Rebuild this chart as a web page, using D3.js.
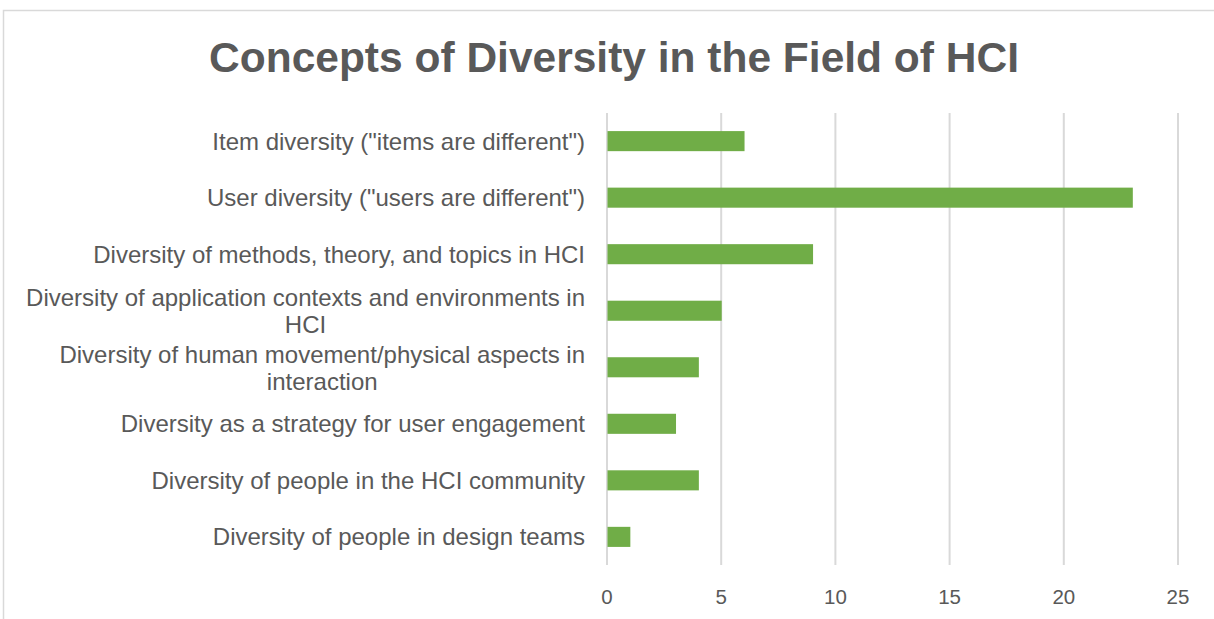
<!DOCTYPE html>
<html>
<head>
<meta charset="utf-8">
<script src="https://cdn.jsdelivr.net/npm/d3@7"></script>
<style>
  body { margin: 0; background: #fff; }
  text { font-family: "Liberation Sans", Arial, sans-serif; }
</style>
</head>
<body>
<div id="chart"></div>
<script>
var categories = [
  'Item diversity ("items are different")',
  'User diversity ("users are different")',
  'Diversity of methods, theory, and topics in HCI',
  'Diversity of application contexts and environments in HCI',
  'Diversity of human movement/physical aspects in interaction',
  'Diversity as a strategy for user engagement',
  'Diversity of people in the HCI community',
  'Diversity of people in design teams'
];
var counts = [6, 23, 9, 5, 4, 3, 4, 1];
var xTicks = [0, 5, 10, 15, 20, 25];
var title = "Concepts of Diversity in the Field of HCI";

var width = 1214,
  height = 619,
  barColor = "#70ad47",
  gridColor = "#d9d9d9",
  textColor = "#595959";

var margin = { top: 113, right: 36.5, bottom: 54, left: 606.5 };

var svg = d3.select("#chart")
  .append("svg")
  .attr("width", width)
  .attr("height", height);

// chart frame (cut off at right and bottom)
svg.append("path")
  .attr("d", "M3.5," + height + " V10.5 H" + width)
  .attr("fill", "none")
  .attr("stroke", gridColor)
  .attr("stroke-width", 1.5);

svg.append("text")
  .attr("x", 614)
  .attr("y", 72)
  .attr("text-anchor", "middle")
  .attr("font-size", 42.5)
  .attr("font-weight", "bold")
  .attr("fill", textColor)
  .text(title);

var x = d3.scaleLinear()
  .domain([0, 25])
  .range([margin.left, width - margin.right]);

var y = d3.scaleBand()
  .domain(categories)
  .range([margin.top, height - margin.bottom])
  .paddingInner(0.645)
  .paddingOuter(0.32);

// gridlines
var xAxis = d3.axisBottom(x)
  .tickValues(xTicks)
  .tickSize(-(height - margin.bottom - margin.top))
  .tickPadding(24);

var gx = svg.append("g")
  .attr("transform", "translate(0," + (height - margin.bottom) + ")")
  .call(xAxis);
gx.select(".domain").remove();
gx.selectAll(".tick line")
  .attr("stroke", gridColor)
  .attr("stroke-width", 2);
gx.selectAll(".tick text")
  .attr("fill", textColor)
  .attr("font-family", "'Open Sans', sans-serif")
  .attr("font-size", 20.5);

// bars
svg.append("g")
  .selectAll("rect")
  .data(categories)
  .join("rect")
  .attr("x", x(0) + 1)
  .attr("y", function (d) { return y(d); })
  .attr("width", function (d, i) { return x(counts[i]) - x(0); })
  .attr("height", y.bandwidth())
  .attr("fill", barColor);

// category labels, wrapped like Excel
var labelRight = 585, maxW = 565, lineH = 27;
var lg = svg.append("g")
  .attr("fill", textColor)
  .attr("font-size", 24);

categories.forEach(function (c) {
  var t = lg.append("text").attr("text-anchor", "end");
  var words = c.split(" "), lines = [], cur = "";
  words.forEach(function (w) {
    var test = cur ? cur + " " + w : w;
    t.text(test);
    if (t.node().getComputedTextLength() > maxW && cur) {
      lines.push(cur);
      cur = w;
    } else {
      cur = test;
    }
  });
  lines.push(cur);
  t.text("");
  var cy = y(c) + y.bandwidth() / 2;
  if (lines.length === 1) {
    t.attr("x", labelRight).attr("y", cy).attr("dy", "0.35em").text(lines[0]);
  } else {
    t.text(lines[0]);
    var w0 = t.node().getComputedTextLength();
    t.text("");
    var mid = labelRight - w0 / 2;
    t.attr("text-anchor", "middle");
    lines.forEach(function (l, k) {
      t.append("tspan")
        .attr("x", mid)
        .attr("y", cy + 0.5 + (k - (lines.length - 1) / 2) * lineH)
        .attr("dy", "0.35em")
        .text(l);
    });
  }
});
</script>
</body>
</html>
